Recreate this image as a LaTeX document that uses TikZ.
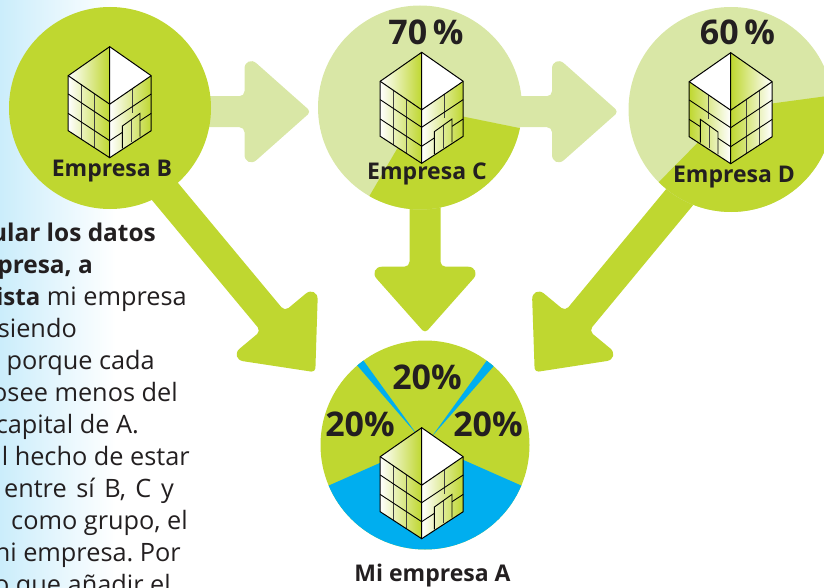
\documentclass[tikz,border=0pt]{standalone}
\usepackage{fontspec}
\setmainfont{Open Sans}
\usetikzlibrary{calc,backgrounds}
\definecolor{limeg}{HTML}{BFD730}
\definecolor{paleg}{HTML}{D9E7A6}
\definecolor{piebl}{HTML}{00AEEF}
\definecolor{skyb}{HTML}{CBEDFB}
\definecolor{ink}{HTML}{231F20}
\newcommand{\bigarrow}[3]{%
  \coordinate (h) at ($(#2)!66.5pt!(#1)$);
  \coordinate (a1) at ($(#1)!15.5pt!90:(#2)$);
  \coordinate (a2) at ($(h)!15.5pt!90:(#2)$);
  \coordinate (a3) at ($(h)!59pt!90:(#2)$);
  \coordinate (a4) at ($(h)!59pt!-90:(#2)$);
  \coordinate (a5) at ($(h)!15.5pt!-90:(#2)$);
  \coordinate (a6) at ($(#1)!15.5pt!-90:(#2)$);
  \fill[#3] (a1)
    -- ($(a2)!5pt!(a1)$) .. controls ($(a2)!2.2pt!(a1)$) and ($(a2)!2.2pt!(a3)$) .. ($(a2)!5pt!(a3)$)
    -- ($(a3)!16pt!(a2)$) .. controls ($(a3)!9pt!(a2)$) and ($(a3)!9pt!(#2)$) .. ($(a3)!16pt!(#2)$)
    -- ($(#2)!4pt!(a3)$) .. controls ($(#2)!2pt!(a3)$) and ($(#2)!2pt!(a4)$) .. ($(#2)!4pt!(a4)$)
    -- ($(a4)!16pt!(#2)$) .. controls ($(a4)!9pt!(#2)$) and ($(a4)!9pt!(a5)$) .. ($(a4)!16pt!(a5)$)
    -- ($(a5)!5pt!(a4)$) .. controls ($(a5)!2.2pt!(a4)$) and ($(a5)!2.2pt!(a6)$) .. ($(a5)!5pt!(a6)$)
    -- (a6) -- cycle;
}
\tikzset{
  x=1pt,y=-1pt,
  disc/.style={circle,inner sep=0pt,outer sep=0pt},
  bodytext/.style={anchor=base east,inner sep=0pt,font=\fontsize{25.3}{28}\selectfont\frenchspacing,text=ink},
  strong/.style={anchor=base east,inner sep=0pt,font=\fontsize{24.4}{28}\selectfont\bfseries,text=ink},
  caption/.style={anchor=base,inner sep=0pt,font=\fontsize{23}{26}\selectfont\bfseries,text=ink},
  pct/.style={anchor=base,inner sep=0pt,font=\fontsize{34}{36}\selectfont\bfseries,text=ink},
  outline/.style={draw=black,line width=1pt,line join=miter},
  gridline/.style={draw=black!75,line width=.9pt},
  bldgface/.style={left color=white,right color=limeg},
  bldg/.pic={
    \shade[bldgface] (-41.5,29)--(0,57.5)--(0,111)--(-41.5,84)--cycle;
    \shade[bldgface] (0,57.5)--(41.5,29)--(41.5,84)--(0,111)--cycle;
    \shade[bldgface] (-41.5,29)--(0,0)--(0,57.5)--cycle;
    \fill[white] (0,0)--(41.5,29)--(0,57.5)--cycle;
    \draw[gridline] (-28.7,37.8)--(-28.7,92.3) (-15.3,47)--(-15.3,101);
    \draw[gridline] (22.7,41.9)--(22.7,66);
    \draw[gridline] (21.3,73)--(21.3,95.5);
    \draw[line width=.9pt] (-41.5,47.3)--(0,75)--(41.5,47.3);
    \draw[line width=.9pt] (-41.5,66.7)--(0,94)--(12.7,85.6);
    \draw[line width=.9pt] (30.3,74)--(41.5,66.7);
    \draw[line width=.9pt] (12.7,101.7)--(12.7,79.3)--(30.3,66.7)--(30.3,90);
    \draw[outline] (0,0)--(41.5,29)--(41.5,84)--(0,111)--(-41.5,84)--(-41.5,29)--cycle;
    \draw[outline] (-41.5,29)--(0,57.5)--(41.5,29) (0,0)--(0,111);
  },
}
\begin{document}
\begin{tikzpicture}
\useasboundingbox (0,0) rectangle (824,588);
\clip (0,0) rectangle (824,588);
% discs
\node[disc,fill=limeg,minimum size=202pt] (B) at (110,108) {};
\node[disc,fill=paleg,minimum size=204pt] (C) at (420,107.5) {};
\node[disc,fill=paleg,minimum size=205pt] (D) at (731,109.5) {};
\node[disc,fill=limeg,minimum size=209pt] (A) at (425,445) {};
% arrow ends
\coordinate (sBC) at (150,111.7);
\coordinate (tBC) at (311,111.7);
\coordinate (sCD) at (470,111.7);
\coordinate (tCD) at (618.5,111.7);
\coordinate (sCA) at (425,170);
\coordinate (tCA) at (425,333.2);
\coordinate (sBA) at (140,161.5);
\coordinate (tBA) at (315.3,372.2);
\coordinate (sDA) at (700,172.5);
\coordinate (tDA) at (534.7,372.2);
\begin{scope}[on background layer]
  \shade[left color=skyb,right color=white] (0,0) rectangle (116,588);
  \bigarrow{sBC}{tBC}{paleg}
  \bigarrow{sCD}{tCD}{paleg}
  \bigarrow{sCA}{tCA}{limeg}
  \bigarrow{sBA}{tBA}{limeg}
  \bigarrow{sDA}{tDA}{limeg}
\end{scope}
% pie sectors
\begin{scope}
  \clip (C.center) circle [radius=102pt];
  \fill[limeg] (421,108)--(539,132)--(539,300)--(350,300)--(359.8,212.4)--cycle;
\end{scope}
\begin{scope}
  \clip (D.center) circle [radius=102.5pt];
  \fill[limeg] (731,109)--(850,93)--(850,300)--(600,300)--(645,196)--cycle;
\end{scope}
\begin{scope}
  \clip (A.center) circle [radius=104.5pt];
  \fill[piebl] (425,443)--(311,493.4)--(311,600)--(539,600)--(539,493.4)--cycle;
  \fill[piebl] (417.3,435)--(352.4,359.9)--(359,354.4)--cycle;
  \fill[piebl] (431.7,436.7)--(491.4,354.2)--(498.8,360.4)--cycle;
\end{scope}
% buildings
\pic (bB) at (109.7,46.7) {bldg};
\pic (bC) at (421.7,52.3) {bldg};
\pic[xscale=-1,bldgface/.style={left color=limeg,right color=white}] (bD) at (730.7,52.7) {bldg};
\pic (bA) at (421.7,427.7) {bldg};
% labels
\node[caption] (lB) at (112,176.7) {Empresa B};
\node[caption] (lC) at (427,180) {Empresa C};
\node[caption] (lD) at (734,182.7) {Empresa D};
\node[caption] (lA) at (432.5,581.7) {Mi empresa A};
\node[pct] (p70) at (426,45) {70\,\%};
\node[pct] (p60) at (737.5,45) {60\,\%};
\node[pct] (p20t) at (427,389) {20\%};
\node[pct] (p20l) at (360,436.7) {20\%};
\node[pct] (p20r) at (488,436.7) {20\%};
% text
\node[strong] (t1) at (156,241.7) {ular los datos};
\node[strong] (t2) at (93,273.7) {presa, a};
\node[bodytext] (t3) at (187,305.7) {{\fontsize{24}{28}\selectfont\bfseries ista} mi empresa};
\node[bodytext] (t4) at (77,337.7) {siendo};
\node[bodytext] (t5) at (155,369.7) {porque cada};
\node[bodytext] (t6) at (178,401.7) {osee menos del};
\node[bodytext] (t7) at (139,433.7) {capital de A.};
\node[bodytext] (t8) at (190,465.7) {l hecho de estar};
\node[bodytext] (t9) at (174,497.7) {entre\hspace{3pt} sí\hspace{3pt} B,\hspace{3pt} C\hspace{3pt} y};
\node[bodytext] (t10) at (188,529.7) {como grupo, el};
\node[bodytext] (t11) at (181,561.7) {ni empresa. Por};
\node[bodytext] (t12) at (171,593.7) {o que añadir el};
\end{tikzpicture}
\end{document}
